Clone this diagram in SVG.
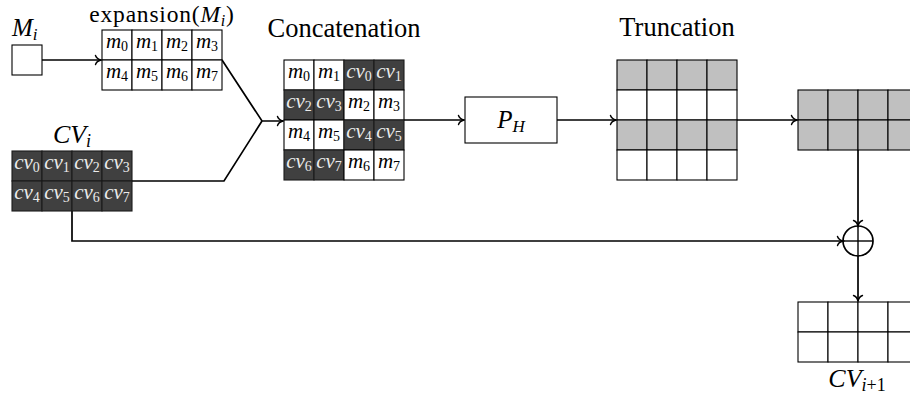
<svg xmlns="http://www.w3.org/2000/svg" width="910" height="396" viewBox="0 0 910 396">
<defs>
<style>
.c{fill:#fff;stroke:#000;stroke-width:1.1}
.d{fill:#404040;stroke:#1a1a1a;stroke-width:1.1}
.g{fill:#c0c0c0;stroke:#000;stroke-width:1.1}
text{font-family:'Liberation Serif','DejaVu Serif','Times New Roman',serif}
.t{font-style:italic;font-size:21px;text-anchor:middle;fill:#000}
.w{fill:#ececec}
.n{font-style:normal}
.lab{font-style:italic;font-size:26px;text-anchor:middle;fill:#000}
.title{font-size:26.5px;text-anchor:middle;fill:#000}
.conn{fill:none;stroke:#000;stroke-width:1.7}
</style>
<marker id="ar" viewBox="-8 -6 10 12" markerWidth="10" markerHeight="12" refX="0" refY="0" orient="auto" markerUnits="userSpaceOnUse">
<path d="M-5.5,-4.5 C-4.5,-1.5 -1.5,-0.4 0,0 C-1.5,0.4 -4.5,1.5 -5.5,4.5" fill="none" stroke="#000" stroke-width="1.4" stroke-linecap="round"/>
</marker>
</defs>
<rect width="910" height="396" fill="#fff"/>

<g id="connectors">
<line class="conn" x1="42" y1="60" x2="101" y2="60" marker-end="url(#ar)"/>
<polyline class="conn" points="222,60 262,121 283,121" marker-end="url(#ar)"/>
<polyline class="conn" points="132,181 224,181 262,121"/>
<line class="conn" x1="404" y1="120" x2="464" y2="120" marker-end="url(#ar)"/>
<line class="conn" x1="557" y1="120" x2="616" y2="120" marker-end="url(#ar)"/>
<line class="conn" x1="737" y1="120" x2="797" y2="120" marker-end="url(#ar)"/>
<line class="conn" x1="858" y1="150" x2="858" y2="226" marker-end="url(#ar)"/>
<polyline class="conn" points="72,211 72,241 843,241" marker-end="url(#ar)"/>
<line class="conn" x1="858" y1="256" x2="858" y2="301" marker-end="url(#ar)"/>
</g>

<g id="mi">
<rect class="c" x="12" y="45" width="30" height="30"/>
<text class="lab" x="12" y="36" style="font-size:25px;text-anchor:start">M<tspan font-size="17" dy="4">i</tspan></text>
</g>

<g id="expansion">
<text class="title" x="162" y="22" style="font-size:23.5px;letter-spacing:0.8px">expansion(<tspan font-style="italic">M</tspan><tspan font-style="italic" font-size="16" dy="4">i</tspan><tspan dy="-4">)</tspan></text>
<rect class="c" x="102" y="30" width="30" height="30"/><text class="t" x="117" y="48">m<tspan class="n" font-size="14" dy="3">0</tspan></text>
<rect class="c" x="132" y="30" width="30" height="30"/><text class="t" x="147" y="48">m<tspan class="n" font-size="14" dy="3">1</tspan></text>
<rect class="c" x="162" y="30" width="30" height="30"/><text class="t" x="177" y="48">m<tspan class="n" font-size="14" dy="3">2</tspan></text>
<rect class="c" x="192" y="30" width="30" height="30"/><text class="t" x="207" y="48">m<tspan class="n" font-size="14" dy="3">3</tspan></text>
<rect class="c" x="102" y="60" width="30" height="30"/><text class="t" x="117" y="78">m<tspan class="n" font-size="14" dy="3">4</tspan></text>
<rect class="c" x="132" y="60" width="30" height="30"/><text class="t" x="147" y="78">m<tspan class="n" font-size="14" dy="3">5</tspan></text>
<rect class="c" x="162" y="60" width="30" height="30"/><text class="t" x="177" y="78">m<tspan class="n" font-size="14" dy="3">6</tspan></text>
<rect class="c" x="192" y="60" width="30" height="30"/><text class="t" x="207" y="78">m<tspan class="n" font-size="14" dy="3">7</tspan></text>
</g>

<g id="cvi">
<text class="lab" x="72" y="143">CV<tspan font-size="18" dy="4">i</tspan></text>
<rect class="d" x="12" y="151" width="30" height="30"/><text class="t w" x="27" y="169">cv<tspan class="n" font-size="14" dy="3">0</tspan></text>
<rect class="d" x="42" y="151" width="30" height="30"/><text class="t w" x="57" y="169">cv<tspan class="n" font-size="14" dy="3">1</tspan></text>
<rect class="d" x="72" y="151" width="30" height="30"/><text class="t w" x="87" y="169">cv<tspan class="n" font-size="14" dy="3">2</tspan></text>
<rect class="d" x="102" y="151" width="30" height="30"/><text class="t w" x="117" y="169">cv<tspan class="n" font-size="14" dy="3">3</tspan></text>
<rect class="d" x="12" y="181" width="30" height="30"/><text class="t w" x="27" y="199">cv<tspan class="n" font-size="14" dy="3">4</tspan></text>
<rect class="d" x="42" y="181" width="30" height="30"/><text class="t w" x="57" y="199">cv<tspan class="n" font-size="14" dy="3">5</tspan></text>
<rect class="d" x="72" y="181" width="30" height="30"/><text class="t w" x="87" y="199">cv<tspan class="n" font-size="14" dy="3">6</tspan></text>
<rect class="d" x="102" y="181" width="30" height="30"/><text class="t w" x="117" y="199">cv<tspan class="n" font-size="14" dy="3">7</tspan></text>
</g>

<g id="concatenation">
<text class="title" x="344" y="37">Concatenation</text>
<rect class="c" x="284" y="60" width="30" height="30"/><text class="t" x="299" y="78">m<tspan class="n" font-size="14" dy="3">0</tspan></text>
<rect class="c" x="314" y="60" width="30" height="30"/><text class="t" x="329" y="78">m<tspan class="n" font-size="14" dy="3">1</tspan></text>
<rect class="d" x="344" y="60" width="30" height="30"/><text class="t w" x="359" y="78">cv<tspan class="n" font-size="14" dy="3">0</tspan></text>
<rect class="d" x="374" y="60" width="30" height="30"/><text class="t w" x="389" y="78">cv<tspan class="n" font-size="14" dy="3">1</tspan></text>
<rect class="d" x="284" y="90" width="30" height="30"/><text class="t w" x="299" y="108">cv<tspan class="n" font-size="14" dy="3">2</tspan></text>
<rect class="d" x="314" y="90" width="30" height="30"/><text class="t w" x="329" y="108">cv<tspan class="n" font-size="14" dy="3">3</tspan></text>
<rect class="c" x="344" y="90" width="30" height="30"/><text class="t" x="359" y="108">m<tspan class="n" font-size="14" dy="3">2</tspan></text>
<rect class="c" x="374" y="90" width="30" height="30"/><text class="t" x="389" y="108">m<tspan class="n" font-size="14" dy="3">3</tspan></text>
<rect class="c" x="284" y="120" width="30" height="30"/><text class="t" x="299" y="138">m<tspan class="n" font-size="14" dy="3">4</tspan></text>
<rect class="c" x="314" y="120" width="30" height="30"/><text class="t" x="329" y="138">m<tspan class="n" font-size="14" dy="3">5</tspan></text>
<rect class="d" x="344" y="120" width="30" height="30"/><text class="t w" x="359" y="138">cv<tspan class="n" font-size="14" dy="3">4</tspan></text>
<rect class="d" x="374" y="120" width="30" height="30"/><text class="t w" x="389" y="138">cv<tspan class="n" font-size="14" dy="3">5</tspan></text>
<rect class="d" x="284" y="150" width="30" height="30"/><text class="t w" x="299" y="168">cv<tspan class="n" font-size="14" dy="3">6</tspan></text>
<rect class="d" x="314" y="150" width="30" height="30"/><text class="t w" x="329" y="168">cv<tspan class="n" font-size="14" dy="3">7</tspan></text>
<rect class="c" x="344" y="150" width="30" height="30"/><text class="t" x="359" y="168">m<tspan class="n" font-size="14" dy="3">6</tspan></text>
<rect class="c" x="374" y="150" width="30" height="30"/><text class="t" x="389" y="168">m<tspan class="n" font-size="14" dy="3">7</tspan></text>
</g>

<g id="ph">
<rect class="c" x="465" y="97" width="92" height="46"/>
<text class="lab" x="511" y="128" style="font-size:25px">P<tspan font-size="17" dy="4">H</tspan></text>
</g>

<g id="truncation">
<text class="title" x="677" y="36">Truncation</text>
<rect class="g" x="617" y="60" width="30" height="30"/><rect class="g" x="647" y="60" width="30" height="30"/><rect class="g" x="677" y="60" width="30" height="30"/><rect class="g" x="707" y="60" width="30" height="30"/>
<rect class="c" x="617" y="90" width="30" height="30"/><rect class="c" x="647" y="90" width="30" height="30"/><rect class="c" x="677" y="90" width="30" height="30"/><rect class="c" x="707" y="90" width="30" height="30"/>
<rect class="g" x="617" y="120" width="30" height="30"/><rect class="g" x="647" y="120" width="30" height="30"/><rect class="g" x="677" y="120" width="30" height="30"/><rect class="g" x="707" y="120" width="30" height="30"/>
<rect class="c" x="617" y="150" width="30" height="30"/><rect class="c" x="647" y="150" width="30" height="30"/><rect class="c" x="677" y="150" width="30" height="30"/><rect class="c" x="707" y="150" width="30" height="30"/>
</g>

<g id="truncated">
<rect class="g" x="798" y="90" width="30" height="30"/><rect class="g" x="828" y="90" width="30" height="30"/><rect class="g" x="858" y="90" width="30" height="30"/><rect class="g" x="888" y="90" width="30" height="30"/>
<rect class="g" x="798" y="120" width="30" height="30"/><rect class="g" x="828" y="120" width="30" height="30"/><rect class="g" x="858" y="120" width="30" height="30"/><rect class="g" x="888" y="120" width="30" height="30"/>
</g>

<g id="xor">
<circle cx="858" cy="241" r="15" fill="none" stroke="#000" stroke-width="1.7"/>
<line x1="843" y1="241" x2="873" y2="241" stroke="#000" stroke-width="1.4"/>
<line x1="858" y1="226" x2="858" y2="256" stroke="#000" stroke-width="1.4"/>
</g>

<g id="cvnext">
<rect class="c" x="798" y="302" width="30" height="30"/><rect class="c" x="828" y="302" width="30" height="30"/><rect class="c" x="858" y="302" width="30" height="30"/><rect class="c" x="888" y="302" width="30" height="30"/>
<rect class="c" x="798" y="332" width="30" height="30"/><rect class="c" x="828" y="332" width="30" height="30"/><rect class="c" x="858" y="332" width="30" height="30"/><rect class="c" x="888" y="332" width="30" height="30"/>
<text class="lab" x="857" y="387">CV<tspan font-size="18" dy="4">i</tspan><tspan class="n" font-size="18">+1</tspan></text>
</g>
</svg>
